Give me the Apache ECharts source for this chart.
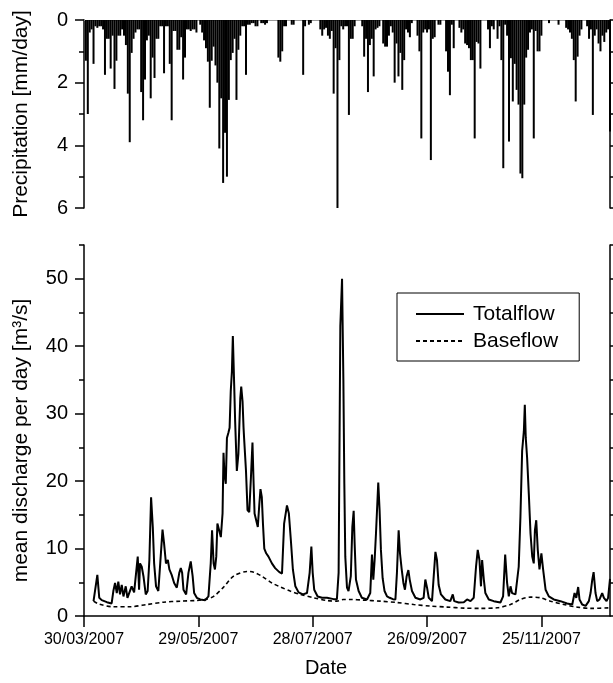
<!DOCTYPE html>
<html>
<head>
<meta charset="utf-8">
<script src="https://cdn.jsdelivr.net/npm/echarts@6/dist/echarts.min.js"></script>
<style>
  html, body { margin: 0; padding: 0; background: #fff; }
  #chart { width: 613px; height: 683px; }
</style>
</head>
<body>
<div id="chart"></div>
<script>
// x values are days counted from 30/03/2007
const tickDays = [0, 60, 120, 180, 240]
const tickLabels = ['30/03/2007', '29/05/2007', '28/07/2007', '26/09/2007', '25/11/2007']
const dischargeTicks = [0, 10, 20, 30, 40, 50]

// precipitation [day, mm/day]
const precipitation = [
  [1,1.3],[2,3.0],[3,0.4],[4,0.3],[5,1.4],[6,0.2],[7,0.25],[8,0.2],[9,0.2],[10,0.3],
  [11,1.75],[12,0.6],[13,0.6],[14,1.55],[15,0.5],[16,2.2],[17,1.3],[18,0.5],[19,0.5],[20,0.3],
  [21,0.5],[22,0.8],[23,2.35],[24,3.9],[25,1.05],[26,0.6],[27,0.4],[28,0.3],[29,0.3],[30,2.3],
  [31,3.2],[32,1.9],[33,0.65],[34,0.5],[35,2.5],[36,1.2],[37,1.85],[38,0.6],[39,0.6],[40,0.2],
  [41,0.2],[42,1.7],[43,0.2],[44,0.2],[45,1.4],[46,3.2],[47,0.35],[48,0.35],[49,0.95],[50,0.95],
  [51,0.55],[52,1.9],[53,1.2],[54,0.3],[55,0.3],[56,0.35],[57,0.3],[58,0.3],[59,0.4],[61,0.15],
  [62,0.4],[63,0.65],[64,0.9],[65,1.33],[66,2.8],[67,1.3],[68,0.85],[69,1.45],[70,2.0],[71,4.1],
  [72,2.5],[73,5.2],[74,3.6],[75,5.0],[76,2.55],[77,1.28],[78,1.05],[79,0.6],[80,2.55],[81,0.95],
  [82,0.5],[83,0.2],[84,0.2],[85,1.75],[86,0.15],[87,0.15],[88,0.1],[89,0.1],[90,0.2],[91,0.2],
  [93,0.1],[94,0.1],[95,0.15],[96,0.1],[102,1.2],[103,1.33],[104,1.0],[105,0.2],[106,0.2],[109,0.15],
  [110,0.15],[115,1.75],[116,0.2],[118,0.15],[119,0.1],[124,0.3],[125,0.5],[126,0.3],[127,0.25],[128,0.5],
  [129,0.6],[130,0.35],[131,2.35],[132,0.9],[133,6.0],[134,1.28],[135,0.2],[136,0.3],[137,0.2],[138,0.2],
  [139,3.03],[140,0.6],[141,0.6],[142,0.2],[146,0.2],[147,1.17],[148,0.6],[149,2.3],[150,0.8],[151,0.6],
  [152,1.8],[153,0.3],[154,0.25],[155,0.2],[157,0.75],[158,0.85],[159,0.85],[160,0.5],[161,0.2],[162,0.4],
  [163,2.0],[164,0.75],[165,1.8],[166,1.05],[167,2.23],[168,1.28],[169,0.3],[170,0.4],[171,0.55],[172,0.1],
  [175,0.5],[176,1.0],[177,3.78],[178,0.4],[179,0.3],[180,0.4],[181,0.3],[182,4.47],[183,0.6],[184,0.55],
  [186,0.15],[187,0.15],[190,1.0],[191,1.65],[192,2.4],[193,0.15],[194,0.9],[197,0.25],[198,0.4],[199,0.3],
  [200,0.75],[201,0.8],[202,0.9],[203,1.28],[204,1.28],[205,3.78],[206,0.7],[207,0.75],[208,1.55],[212,0.3],
  [213,0.9],[214,0.2],[215,0.3],[217,0.6],[218,0.2],[219,1.28],[220,4.73],[221,0.15],[222,0.5],[223,3.88],
  [224,1.22],[225,2.6],[226,1.4],[227,2.23],[228,2.7],[229,4.9],[230,5.05],[231,2.7],[232,1.2],[233,0.95],
  [234,0.4],[235,0.3],[236,3.78],[237,0.35],[238,1.0],[239,1.0],[240,0.5],[244,0.1],[249,0.15],[253,0.25],
  [254,0.3],[255,0.4],[256,0.6],[257,1.28],[258,2.6],[259,1.17],[260,0.5],[261,0.3],[264,0.2],[265,0.6],
  [266,0.3],[267,3.03],[268,0.5],[269,0.3],[270,0.75],[271,1.0],[272,0.5],[273,0.7],[274,0.4],[275,0.3],
  [276,3.56]
]

// mean discharge [day, m3/s]
const totalflow = [
  [5,2.2],[7,6.1],[8,2.7],[9.3,2.35],[12,2.05],[14.5,1.86],[15.4,3.7],[16.3,4.9],[17.2,3.4],[18,5.1],
  [18.9,3.2],[19.8,4.6],[20.7,2.9],[21.9,4.4],[22.8,2.7],[23.8,2.5],[25,4.4],[26.3,3.5],[27.3,3.4],[28.2,8.8],
  [28.9,3.9],[29.4,7.8],[30.3,7.3],[31.2,5.9],[32.4,3.2],[33.4,3.7],[34.3,8.3],[35.2,17.6],[36.1,13.2],[36.8,7.8],
  [37.8,4.4],[39,3.7],[40,7.8],[41.2,12.8],[42,10.8],[43,7.8],[44,8.3],[44.8,6.9],[46,6.1],[47.3,4.9],
  [48.7,4.2],[50,6.4],[50.8,7.1],[51.5,6.4],[52.2,3.9],[53.6,3.2],[54.8,6.4],[56,8.1],[57,5.9],[57.8,3.4],
  [59.2,2.7],[61,2.45],[63.6,2.35],[65.3,2.9],[66.5,7.8],[67.2,12.7],[68,7.8],[68.7,6.9],[69.4,8.8],[70,13.7],
  [71.1,12.5],[71.8,11.7],[72.7,15.2],[73.2,24.2],[73.7,21],[74.4,19.6],[75,26.4],[75.8,27.2],[76.4,27.9],[77,33.3],
  [77.6,36.2],[78.1,41.5],[78.8,34.3],[79.3,28.9],[80.2,21.5],[81,24],[82,32.3],[82.5,34],[83.2,31.8],[83.7,28],
  [84,26.4],[85,21.5],[85.8,15.7],[86.7,15.4],[87.6,20.6],[88.4,25.7],[89,19.6],[89.5,15.2],[90.4,15.4],[91.2,13.2],
  [92,16.6],[92.6,18.8],[93.3,17.6],[93.9,13.7],[94.6,10],[95.6,9.3],[96.8,8.8],[98.6,7.8],[100.3,7.1],[102.5,6.5],
  [103.9,6.3],[105,13.7],[106.5,16.4],[107.5,15.2],[108.6,11],[109.6,6.9],[110.9,4.4],[112.6,3.5],[114.9,3.2],[117,3.4],
  [118.4,6.4],[119.3,10.3],[120,6.4],[120.8,3.9],[122.6,2.9],[124.9,2.7],[127.5,2.7],[131,2.5],[132.7,2.5],[133.6,6.4],
  [134.5,43],[135.4,50],[136.1,35],[136.6,19.6],[137.1,8.8],[138,4.2],[138.8,3.7],[140,5.9],[140.8,13.2],[141.5,15.6],
  [142,10.8],[142.7,5.4],[144.1,3.7],[145.8,2.7],[148.5,2.45],[150.2,3.4],[151.1,9.1],[151.8,5.4],[152.5,8.3],[153.2,12.2],
  [153.9,16.6],[154.4,19.8],[155.1,15.7],[155.8,9.8],[156.7,5.6],[157.7,3.7],[159,2.9],[160.4,2.7],[162.1,2.5],[163.4,2.45],
  [164.2,6.4],[165.1,12.7],[165.8,9.3],[166.7,6.9],[167.6,4.9],[168.4,3.9],[169.3,5.9],[170.2,6.8],[170.9,5.4],[172.1,3.7],
  [173.9,2.7],[176.5,2.45],[178.2,2.7],[179.1,5.4],[180,4.2],[180.9,2.7],[182.6,2.2],[183.5,5.9],[184.4,9.5],[185.2,8.3],
  [186.1,4.6],[187.3,3.2],[189.6,2.45],[192.2,2.2],[193.5,3.2],[194.3,2.2],[196.6,2.0],[199.3,2.05],[201,2.45],[202.8,2.2],
  [204.5,2.7],[205.7,7.3],[206.6,9.8],[207.5,8.3],[208.3,4.4],[208.9,8.3],[209.8,5.4],[210.6,3.4],[212.4,2.45],[215,2.2],
  [218.5,2.0],[219.9,2.9],[221,9.1],[222,4.9],[222.9,2.9],[223.8,4.4],[224.6,3.4],[226.4,3.2],[228.1,7.3],[229,14.7],
  [229.9,24.5],[230.8,27.4],[231.3,31.3],[231.8,26.4],[232.5,23.5],[233.4,18.1],[234.3,12.2],[235.2,8.8],[236,7.8],[236.6,12.7],
  [237.3,14.2],[238.1,9.8],[239,6.9],[240,9.3],[240.9,6.9],[242.2,3.9],[243.9,2.9],[246.5,2.45],[250,2.2],[253.5,1.86],
  [256.2,1.7],[257.4,3.4],[258.3,2.7],[259.3,4.3],[260,2.45],[261.4,1.7],[263.2,1.5],[264.9,2.2],[265.8,3.4],[266.7,5.4],
  [267.4,6.5],[268.4,3.4],[269.3,2.2],[270.5,2.45],[271.9,3.4],[272.8,2.7],[274.2,2.2],[275,2.7],[276,5.5]
]

const baseflow = [
  [5,2.2],[8,1.75],[15.4,1.37],[24,1.37],[33,1.7],[41.7,2.05],[50.4,2.2],[59,2.3],[64.4,2.5],[68,2.9],
  [73,4.2],[78.5,5.9],[85.5,6.6],[89,6.5],[93.3,5.9],[98.6,4.9],[103,4.3],[108.2,3.7],[113.5,3.2],[120.5,2.7],
  [127.5,2.3],[132.7,2.2],[136,2.45],[139.7,2.45],[146.7,2.35],[155.5,2.2],[164.2,2.0],[173,1.7],[181.7,1.47],[190.5,1.32],
  [199.3,1.17],[208,1.13],[216.8,1.22],[223.8,1.7],[229,2.45],[234.3,2.8],[239.5,2.7],[244.8,2.2],[251.8,1.7],[258.8,1.32],
  [265.8,1.13],[276,1.22]
]

const chart = echarts.init(document.getElementById('chart'))
const font = 'Liberation Sans, Arial, sans-serif'
const blackLine = { show: true, lineStyle: { color: '#000', width: 1.5 } }
const noSplit = { show: false }

const option = {
  animation: false,
  textStyle: { fontFamily: font, color: '#000' },
  grid: [
    { left: 84, right: 3, top: 20, height: 188 },
    { left: 84, right: 3, top: 245, height: 375 }
  ],
  legend: {
    data: ['Totalflow', 'Baseflow'],
    orient: 'vertical',
    left: 397,
    top: 293,
    padding: [8, 21, 7, 18],
    itemGap: 1,
    itemWidth: 48,
    itemHeight: 14,
    itemStyle: { opacity: 0, borderWidth: 0 },
    borderColor: '#000',
    borderWidth: 1,
    borderRadius: 0,
    textStyle: { fontFamily: font, fontSize: 21, color: '#000', lineHeight: 26, padding: [0, 0, 0, 4] }
  },
  xAxis: [
    {
      type: 'value', gridIndex: 0, min: 0, max: 276, position: 'top',
      axisLine: { show: true, lineStyle: { color: '#999', width: 1 } },
      axisTick: { show: false }, axisLabel: { show: false }, splitLine: noSplit
    },
    {
      type: 'value', gridIndex: 1, min: 0, max: 276,
      axisLine: blackLine,
      axisTick: { show: true, length: 11, customValues: tickDays, lineStyle: { width: 1.5, color: '#000' } },
      axisLabel: {
        customValues: tickDays, fontSize: 16, margin: 16, color: '#000', fontFamily: font,
        formatter: v => tickLabels[tickDays.indexOf(v)] || ''
      },
      splitLine: noSplit,
      name: 'Date', nameLocation: 'middle', nameGap: 42,
      nameTextStyle: { fontSize: 20, color: '#000', fontFamily: font, padding: [0, 42, 0, 0] }
    }
  ],
  yAxis: [
    {
      type: 'value', gridIndex: 0, inverse: true, min: 0, max: 6, interval: 2, position: 'left',
      axisLine: blackLine,
      axisTick: { length: 9, lineStyle: { width: 1.5, color: '#000' } },
      minorTick: { show: true, splitNumber: 2, length: 5, lineStyle: { width: 1.5, color: '#000' } },
      axisLabel: { fontSize: 20, margin: 16, color: '#000', fontFamily: font },
      splitLine: noSplit, minorSplitLine: { show: false },
      name: 'Precipitation [mm/day]', nameLocation: 'middle', nameGap: 52,
      nameTextStyle: { fontSize: 21, color: '#000', fontFamily: font }
    },
    {
      type: 'value', gridIndex: 0, inverse: true, min: 0, max: 6, interval: 1, position: 'right',
      axisLine: blackLine,
      axisTick: { length: 9, lineStyle: { width: 1.5, color: '#000' } },
      axisLabel: { show: false }, splitLine: noSplit
    },
    {
      type: 'value', gridIndex: 1, min: 0, max: 55, interval: 5, position: 'left',
      axisLine: blackLine,
      axisTick: { length: 5, lineStyle: { width: 1.5, color: '#000' } },
      axisLabel: {
        fontSize: 20, margin: 16, color: '#000', fontFamily: font,
        formatter: v => (v % 10 === 0 ? String(v) : '')
      },
      splitLine: noSplit,
      name: 'mean discharge per day [m³/s]', nameLocation: 'middle', nameGap: 52,
      nameTextStyle: { fontSize: 21, color: '#000', fontFamily: font, padding: [0, 20, 0, 0] }
    },
    {
      type: 'value', gridIndex: 1, min: 0, max: 55, position: 'left',
      axisLine: { show: false },
      axisTick: { show: true, length: 9, customValues: dischargeTicks, lineStyle: { width: 1.5, color: '#000' } },
      axisLabel: { show: false }, splitLine: noSplit
    },
    {
      type: 'value', gridIndex: 1, min: 0, max: 55, interval: 5, position: 'right',
      axisLine: blackLine,
      axisTick: { length: 9, lineStyle: { width: 1.5, color: '#000' } },
      axisLabel: { show: false }, splitLine: noSplit
    }
  ],
  series: [
    {
      name: 'Precipitation', type: 'bar', xAxisIndex: 0, yAxisIndex: 0,
      data: precipitation, barWidth: 2, itemStyle: { color: '#000' }
    },
    {
      name: 'Totalflow', type: 'line', xAxisIndex: 1, yAxisIndex: 2,
      data: totalflow, symbol: 'none', color: '#000',
      lineStyle: { color: '#000', width: 2 }
    },
    {
      name: 'Baseflow', type: 'line', xAxisIndex: 1, yAxisIndex: 2,
      data: baseflow, symbol: 'none', smooth: 0.3, color: '#000',
      lineStyle: { color: '#000', width: 1.6, type: [4, 3] }
    }
  ]
}

chart.setOption(option)
</script>
</body>
</html>
